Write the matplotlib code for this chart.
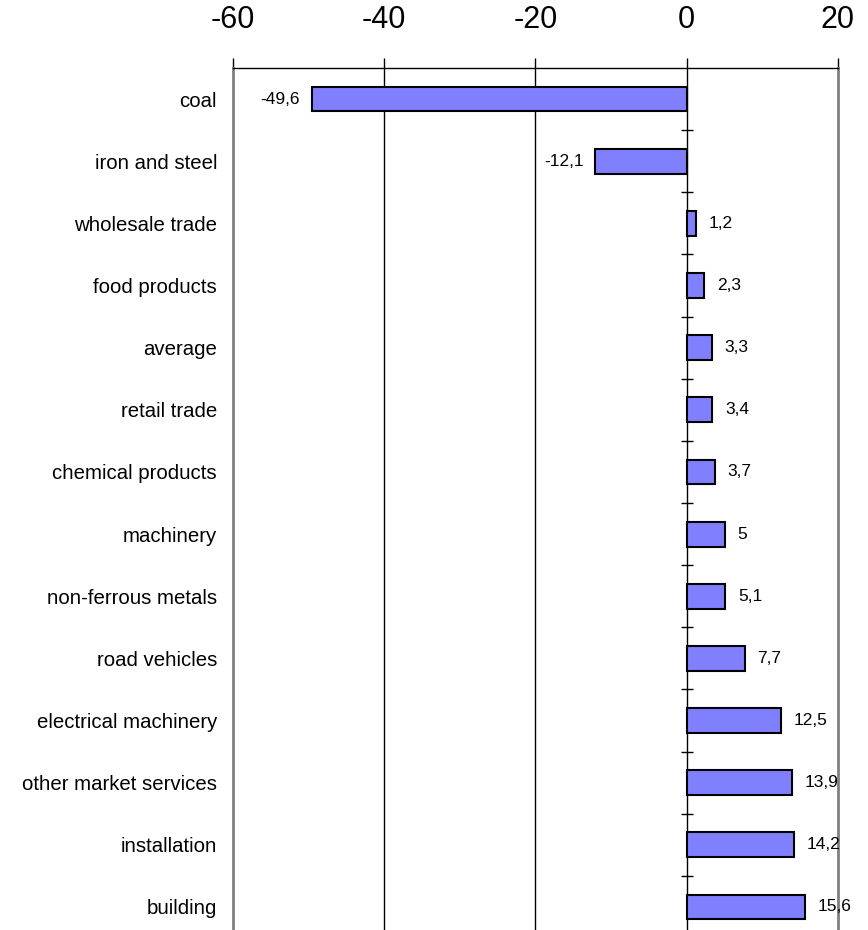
import matplotlib.pyplot as plt
import numpy as np

plt.rcParams['font.family'] = ['Liberation Sans', 'DejaVu Sans']
plt.rcParams['axes.unicode_minus'] = False

sectors = ['coal', 'iron and steel', 'wholesale trade', 'food products', 'average',
           'retail trade', 'chemical products', 'machinery', 'non-ferrous metals',
           'road vehicles', 'electrical machinery', 'other market services',
           'installation', 'building']
growth = [-49.6, -12.1, 1.2, 2.3, 3.3, 3.4, 3.7, 5, 5.1, 7.7, 12.5, 13.9, 14.2, 15.6]
xticks = [-60, -40, -20, 0, 20]

fig = plt.figure(figsize=(8.68, 9.30), dpi=100)
ax = fig.add_axes([233 / 868, -8 / 930, (838 - 233) / 868, 870 / 930])

y = np.arange(len(sectors))
ax.barh(y, growth, height=0.4, color='#8080ff', edgecolor='black', linewidth=1.5, zorder=3)

# value labels beside each bar, decimal comma
for yi, v in zip(y, growth):
    txt = ('%g' % v).replace('.', ',')
    if v < 0:
        ax.annotate(txt, (v, yi), xytext=(-8.5, 0), textcoords='offset points',
                    ha='right', va='center', fontsize=12.5)
    else:
        ax.annotate(txt, (v, yi), xytext=(9, 0), textcoords='offset points',
                    ha='left', va='center', fontsize=12.5)

ax.set_xlim(-60, 20)
ax.set_ylim(len(sectors) - 0.5, -0.5)

ax.set_xticks(xticks)
ax.xaxis.tick_top()
ax.tick_params(axis='x', direction='out', length=7, width=1, pad=17, labelsize=22)
ax.set_yticks(y)
ax.set_yticklabels(sectors, fontsize=14.7)
ax.tick_params(axis='y', length=0, pad=11.5)

# vertical grid lines and the zero axis
for xv in xticks[1:-1]:
    ax.axvline(xv, color='black', linewidth=1, zorder=1)
# category ticks crossing the zero line
ax.hlines(y[:-1] + 0.5, -0.8, 0.8, color='black', linewidth=1, zorder=2)

for side in ['left', 'right']:
    ax.spines[side].set_color('#808080')
    ax.spines[side].set_linewidth(2)
ax.spines['bottom'].set_visible(False)
ax.spines['top'].set_linewidth(1)

fig.savefig('out.png', dpi=100)
